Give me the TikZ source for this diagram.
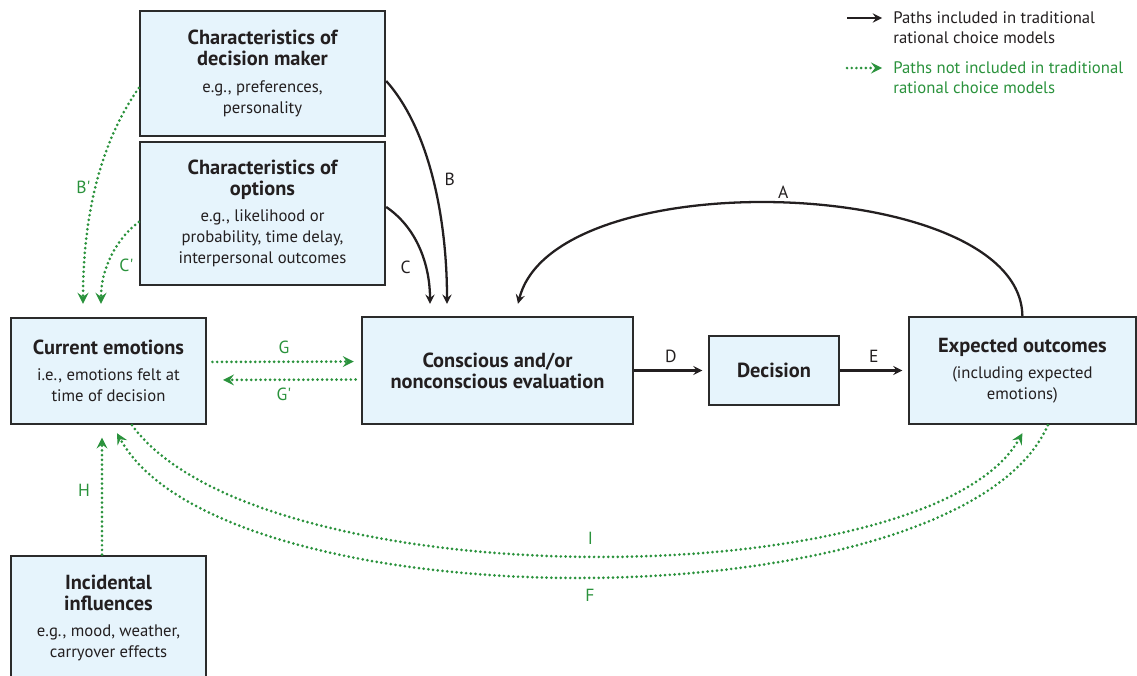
\documentclass[tikz,border=0pt]{standalone}
\usepackage{fontspec}
\setmainfont{PT Sans}
\usepackage{tikz}
\usetikzlibrary{arrows}

\definecolor{boxblue}{HTML}{E6F4FC}
\definecolor{boxedge}{HTML}{2B2B2B}
\definecolor{pathgreen}{HTML}{2A923C}
\definecolor{inkgray}{HTML}{231F20}

\newcommand{\boxhead}{\fontsize{11.6}{12}\selectfont\bfseries}
\newcommand{\boxbody}{\fontsize{9.5}{11}\selectfont\mdseries}

\tikzstyle{factor} = [rectangle, minimum width=3.9cm, minimum height=2.12cm, text centered, align=center, draw=boxedge, line width=1.4pt, fill=boxblue, text=inkgray]
\tikzstyle{arrow} = [line width=1.3pt, ->, >=stealth, draw=inkgray]
\tikzstyle{dotarrow} = [line width=1.7pt, ->, >=stealth, draw=pathgreen, line cap=round, dash pattern=on 0pt off 2.7pt]
\tikzstyle{tag} = [font=\fontsize{10}{12}\selectfont, text=inkgray, inner sep=2pt]
\tikzstyle{gtag} = [tag, text=pathgreen]
\tikzstyle{legend} = [align=left, anchor=west, font=\fontsize{9.5}{11.5}\selectfont, inner sep=0pt]

\begin{document}
\begin{tikzpicture}[x=0.02cm, y=-0.02cm, node distance=3cm]
\useasboundingbox (0,0) rectangle (1137,676);

\node (dm) [factor, minimum width=4.9cm, minimum height=2.5cm] at (262.5,73.5) {\boxhead Characteristics of\\\boxhead decision maker\\[3pt]\boxbody e.g., preferences,\\\boxbody personality};
\node (opt) [factor, below of=dm, yshift=0.2cm, minimum width=4.9cm, minimum height=2.86cm] {\boxhead Characteristics of\\\boxhead options\\[3pt]\boxbody e.g., likelihood or\\\boxbody probability, time delay,\\\boxbody interpersonal outcomes};
\node (cur) [factor] at (108.5,371) {\boxhead Current emotions\\[3pt]\boxbody i.e., emotions felt at\\\boxbody time of decision};
\node (eval) [factor, minimum width=5.42cm, minimum height=2.14cm] at (497.5,370.5) {\boxhead Conscious and/or\\\boxhead nonconscious evaluation};
\node (dec) [factor, right of=eval, xshift=2.53cm, minimum width=2.6cm, minimum height=1.38cm] {\boxhead Decision};
\node (exp) [factor, right of=dec, xshift=1.97cm, minimum width=4.54cm, minimum height=2.14cm] {\boxhead Expected outcomes\\[3pt]\boxbody (including expected\\\boxbody emotions)};
\node (inc) [factor, below of=cur, yshift=-1.94cm, minimum height=2.48cm] {\boxhead Incidental\\\boxhead influences\\[3pt]\boxbody e.g., mood, weather,\\\boxbody carryover effects};

% legend
\coordinate (k1a) at (847,18);
\coordinate (k1b) at (882,18);
\coordinate (k2a) at (847,68);
\coordinate (k2b) at (882,68);
\node (key1) [legend, text=inkgray] at (893,28) {Paths included in traditional\\rational choice models};
\node (key2) [legend, text=pathgreen] at (893,78) {Paths not included in traditional\\rational choice models};
\draw [arrow] (k1a) -- (k1b);
\draw [dotarrow] (k2a) -- (k2b);

% traditional paths
\draw [arrow] ([yshift=-0.15cm]dm.east) .. controls (430,130) and (447,220) .. node[tag, pos=0.5, right, xshift=4pt] {B} ([xshift=-1.01cm, yshift=0.24cm]eval.north);
\draw [arrow] ([yshift=0.13cm]opt.east) .. controls (420,230) and (430,270) .. node[tag, pos=0.65, left, xshift=-6pt] {C} ([xshift=-1.35cm, yshift=0.24cm]eval.north);
\draw [arrow] (exp.north) .. controls (1020,175) and (555,160) .. node[tag, pos=0.5, above] {A} ([xshift=0.41cm, yshift=0.24cm]eval.north);
\draw [arrow, shorten >=3pt] (eval.east) -- node[tag, above, yshift=2pt] {D} (dec.west);
\draw [arrow, shorten >=3pt] (dec.east) -- node[tag, above, yshift=2pt] {E} (exp.west);

% paths outside the traditional models
\draw [dotarrow] ([yshift=-0.29cm]dm.west) .. controls (95,150) and (83,230) .. node[gtag, pos=0.48, left] {B\textquotesingle} ([xshift=-0.51cm, yshift=0.26cm]cur.north);
\draw [dotarrow] ([yshift=-0.17cm]opt.west) .. controls (115,240) and (101,270) .. node[gtag, pos=0.6, right, xshift=4pt] {C\textquotesingle} ([xshift=-0.15cm, yshift=0.26cm]cur.north);
\draw [dotarrow, shorten <=3pt, shorten >=4pt] ([yshift=0.18cm]cur.east) -- node[gtag, above, yshift=2pt] {G} ([yshift=0.18cm]eval.west);
\draw [dotarrow, shorten <=3pt, shorten >=9pt] ([yshift=-0.18cm]eval.west) -- node[gtag, below, yshift=-2pt] {G\textquotesingle} ([yshift=-0.18cm]cur.east);
\draw [dotarrow, shorten >=7pt] ([xshift=-0.13cm]inc.north) -- node[gtag, left, xshift=-4pt] {H} ([xshift=-0.13cm]cur.south);
\draw [dotarrow] ([xshift=0.47cm]cur.south) .. controls (260,600) and (930,597) .. node[gtag, pos=0.5, above, yshift=4pt] {I} ([yshift=-0.16cm]exp.south);
\draw [dotarrow] ([xshift=0.51cm]exp.south) .. controls (960,626) and (225,627) .. node[gtag, pos=0.5, below, yshift=-4pt] {F} ([xshift=0.17cm, yshift=-0.16cm]cur.south);

\end{tikzpicture}
\end{document}
